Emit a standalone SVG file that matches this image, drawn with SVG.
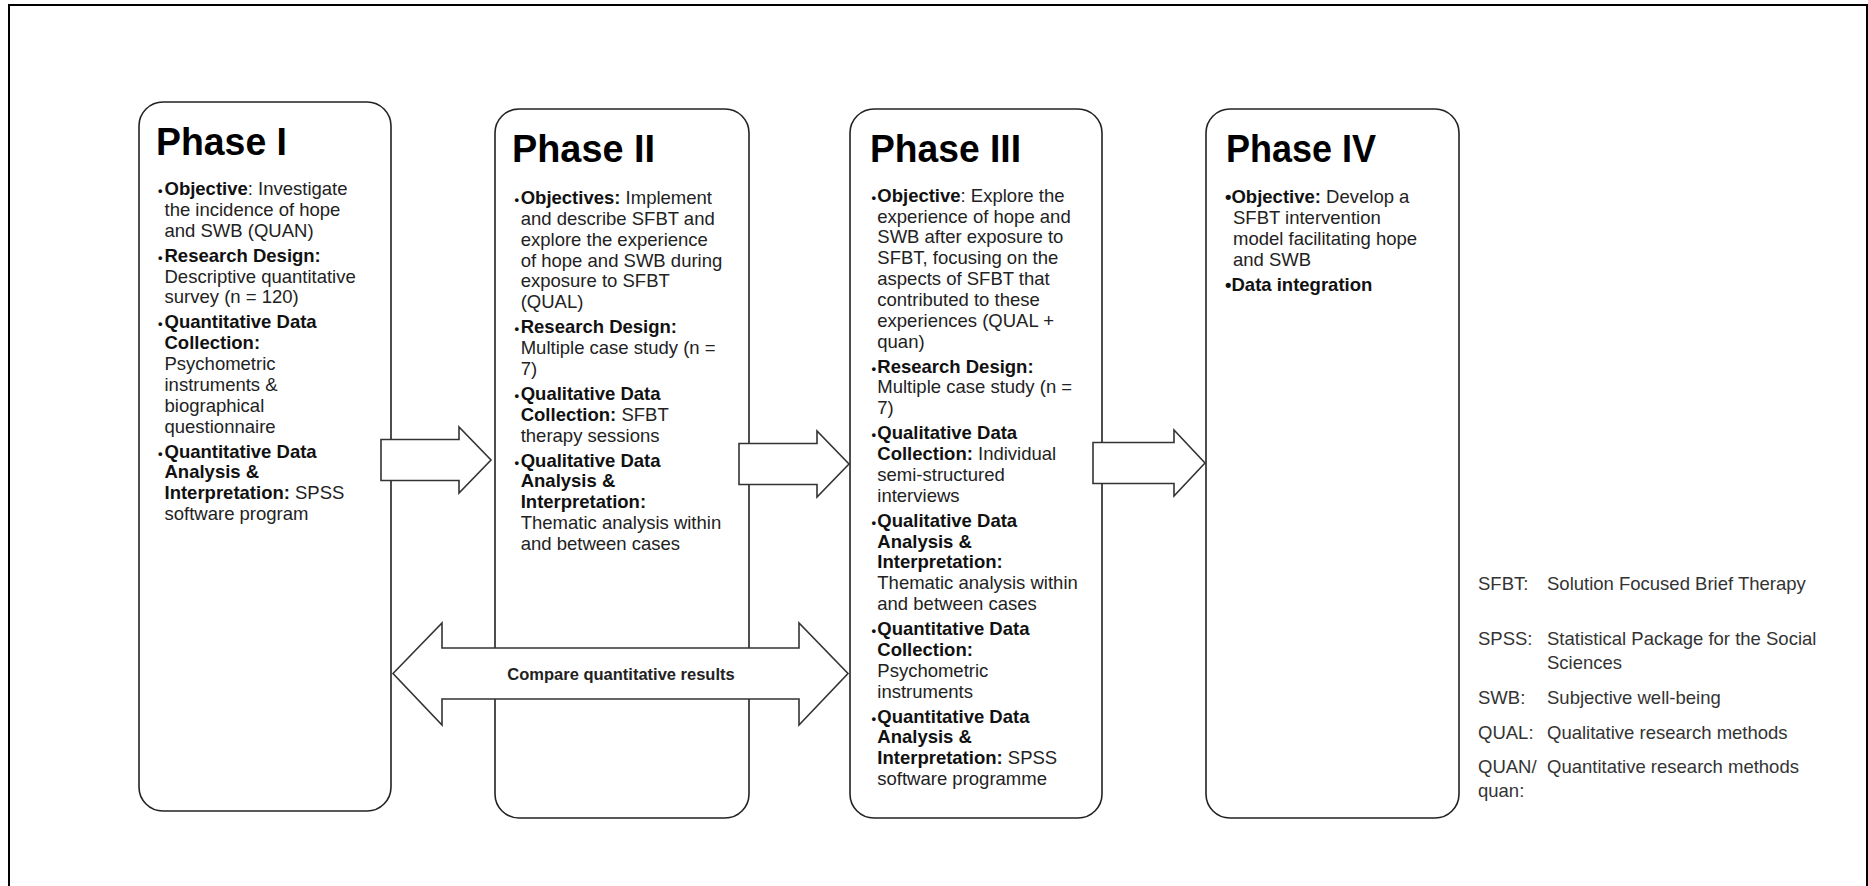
<svg xmlns="http://www.w3.org/2000/svg" width="1868" height="886" viewBox="0 0 1868 886">
<style>
.frame{fill:none;stroke:#000;stroke-width:2}
.box{fill:#fff;stroke:#222;stroke-width:1.6}
.arr{fill:#fff;stroke:#333;stroke-width:1.6;stroke-linejoin:miter}
.hdr{font-family:"Liberation Sans",Arial,sans-serif;font-weight:bold;font-size:39px;fill:#000}
.t{font-family:"Liberation Sans",Arial,sans-serif;font-size:18.5px;fill:#222}
.b{font-weight:bold;fill:#111}
.bu{font-size:13px;font-weight:bold;fill:#111}
.lbl{font-family:"Liberation Sans",Arial,sans-serif;font-weight:bold;font-size:16.5px;fill:#222}
.lg{font-family:"Liberation Sans",Arial,sans-serif;font-size:18.5px;fill:#333}
</style>
<rect class="frame" x="9" y="5" width="1858" height="890"/>

<g id="phase1">
<rect class="box" x="139" y="102" width="252" height="709" rx="24" ry="24"/>
<text class="hdr" x="156" y="155" textLength="131" lengthAdjust="spacingAndGlyphs">Phase I</text>
<text class="t">
<tspan x="158" y="195" class="bu">•</tspan><tspan x="164.5" y="195"><tspan class="b">Objective</tspan>: Investigate</tspan>
<tspan x="164.5" y="215.8">the incidence of hope</tspan>
<tspan x="164.5" y="236.7">and SWB (QUAN)</tspan>
<tspan x="158" y="261.7" class="bu">•</tspan><tspan x="164.5" y="261.7" class="b">Research Design:</tspan>
<tspan x="164.5" y="282.5">Descriptive quantitative</tspan>
<tspan x="164.5" y="303.3">survey (n = 120)</tspan>
<tspan x="158" y="328.3" class="bu">•</tspan><tspan x="164.5" y="328.3" class="b">Quantitative Data</tspan>
<tspan x="164.5" y="349.2" class="b">Collection:</tspan>
<tspan x="164.5" y="370">Psychometric</tspan>
<tspan x="164.5" y="390.8">instruments &amp;</tspan>
<tspan x="164.5" y="411.7">biographical</tspan>
<tspan x="164.5" y="432.5">questionnaire</tspan>
<tspan x="158" y="457.5" class="bu">•</tspan><tspan x="164.5" y="457.5" class="b">Quantitative Data</tspan>
<tspan x="164.5" y="478.3" class="b">Analysis &amp;</tspan>
<tspan x="164.5" y="499.2"><tspan class="b">Interpretation:</tspan> SPSS</tspan>
<tspan x="164.5" y="520">software program</tspan>
</text>
</g>

<g id="phase2">
<rect class="box" x="495" y="109" width="254" height="709" rx="24" ry="24"/>
<text class="hdr" x="512" y="161.5" textLength="143" lengthAdjust="spacingAndGlyphs">Phase II</text>
<text class="t">
<tspan x="514.5" y="204" class="bu">•</tspan><tspan x="520.7" y="204"><tspan class="b">Objectives:</tspan> Implement</tspan>
<tspan x="520.7" y="224.8">and describe SFBT and</tspan>
<tspan x="520.7" y="245.7">explore the experience</tspan>
<tspan x="520.7" y="266.5">of hope and SWB during</tspan>
<tspan x="520.7" y="287.3">exposure to SFBT</tspan>
<tspan x="520.7" y="308.2">(QUAL)</tspan>
<tspan x="514.5" y="333.2" class="bu">•</tspan><tspan x="520.7" y="333.2" class="b">Research Design:</tspan>
<tspan x="520.7" y="354">Multiple case study (n =</tspan>
<tspan x="520.7" y="374.8">7)</tspan>
<tspan x="514.5" y="399.8" class="bu">•</tspan><tspan x="520.7" y="399.8" class="b">Qualitative Data</tspan>
<tspan x="520.7" y="420.7"><tspan class="b">Collection:</tspan> SFBT</tspan>
<tspan x="520.7" y="441.5">therapy sessions</tspan>
<tspan x="514.5" y="466.5" class="bu">•</tspan><tspan x="520.7" y="466.5" class="b">Qualitative Data</tspan>
<tspan x="520.7" y="487.3" class="b">Analysis &amp;</tspan>
<tspan x="520.7" y="508.2" class="b">Interpretation:</tspan>
<tspan x="520.7" y="529">Thematic analysis within</tspan>
<tspan x="520.7" y="549.8">and between cases</tspan>
</text>
</g>

<g id="phase3">
<rect class="box" x="850" y="109" width="252" height="709" rx="24" ry="24"/>
<text class="hdr" x="870" y="161.5" textLength="151" lengthAdjust="spacingAndGlyphs">Phase III</text>
<text class="t">
<tspan x="871.5" y="201.7" class="bu">•</tspan><tspan x="877.3" y="201.7"><tspan class="b">Objective</tspan>: Explore the</tspan>
<tspan x="877.3" y="222.5">experience of hope and</tspan>
<tspan x="877.3" y="243.4">SWB after exposure to</tspan>
<tspan x="877.3" y="264.2">SFBT, focusing on the</tspan>
<tspan x="877.3" y="285">aspects of SFBT that</tspan>
<tspan x="877.3" y="305.9">contributed to these</tspan>
<tspan x="877.3" y="326.7">experiences (QUAL +</tspan>
<tspan x="877.3" y="347.5">quan)</tspan>
<tspan x="871.5" y="372.5" class="bu">•</tspan><tspan x="877.3" y="372.5" class="b">Research Design:</tspan>
<tspan x="877.3" y="393.4">Multiple case study (n =</tspan>
<tspan x="877.3" y="414.2">7)</tspan>
<tspan x="871.5" y="439.2" class="bu">•</tspan><tspan x="877.3" y="439.2" class="b">Qualitative Data</tspan>
<tspan x="877.3" y="460"><tspan class="b">Collection:</tspan> Individual</tspan>
<tspan x="877.3" y="480.9">semi-structured</tspan>
<tspan x="877.3" y="501.7">interviews</tspan>
<tspan x="871.5" y="526.7" class="bu">•</tspan><tspan x="877.3" y="526.7" class="b">Qualitative Data</tspan>
<tspan x="877.3" y="547.5" class="b">Analysis &amp;</tspan>
<tspan x="877.3" y="568.4" class="b">Interpretation:</tspan>
<tspan x="877.3" y="589.2">Thematic analysis within</tspan>
<tspan x="877.3" y="610">and between cases</tspan>
<tspan x="871.5" y="635" class="bu">•</tspan><tspan x="877.3" y="635" class="b">Quantitative Data</tspan>
<tspan x="877.3" y="655.9" class="b">Collection:</tspan>
<tspan x="877.3" y="676.7">Psychometric</tspan>
<tspan x="877.3" y="697.5">instruments</tspan>
<tspan x="871.5" y="722.5" class="bu">•</tspan><tspan x="877.3" y="722.5" class="b">Quantitative Data</tspan>
<tspan x="877.3" y="743.4" class="b">Analysis &amp;</tspan>
<tspan x="877.3" y="764.2"><tspan class="b">Interpretation:</tspan> SPSS</tspan>
<tspan x="877.3" y="785">software programme</tspan>
</text>
</g>

<g id="phase4">
<rect class="box" x="1206" y="109" width="253" height="709" rx="24" ry="24"/>
<text class="hdr" x="1226" y="161.5" textLength="150" lengthAdjust="spacingAndGlyphs">Phase IV</text>
<text class="t">
<tspan x="1225" y="203"><tspan class="b">•Objective:</tspan> Develop a</tspan>
<tspan x="1233" y="223.8">SFBT intervention</tspan>
<tspan x="1233" y="244.7">model facilitating hope</tspan>
<tspan x="1233" y="265.5">and SWB</tspan>
<tspan x="1225" y="290.5" class="b">•Data integration</tspan>
</text>
</g>

<g id="connectors">
<polygon class="arr" points="381,439.5 459,439.5 459,427 491,460 459,493 459,480.5 381,480.5"/>
<polygon class="arr" points="739,443.5 817,443.5 817,431 849,464 817,497 817,484.5 739,484.5"/>
<polygon class="arr" points="1093,442.5 1174,442.5 1174,430 1205,463 1174,496 1174,483.5 1093,483.5"/>
<polygon class="arr" points="393,673.5 442,623 442,648 799,648 799,623 848,673.5 799,725 799,699 442,699 442,725"/>
<text class="lbl" x="621" y="679.5" text-anchor="middle">Compare quantitative results</text>
</g>

<g id="legend">
<text class="lg" x="1478" y="590">SFBT:</text>
<text class="lg" x="1547" y="590">Solution Focused Brief Therapy</text>
<text class="lg" x="1478" y="645">SPSS:</text>
<text class="lg" x="1547" y="645">Statistical Package for the Social</text>
<text class="lg" x="1547" y="669">Sciences</text>
<text class="lg" x="1478" y="704">SWB:</text>
<text class="lg" x="1547" y="704">Subjective well-being</text>
<text class="lg" x="1478" y="738.5">QUAL:</text>
<text class="lg" x="1547" y="738.5">Qualitative research methods</text>
<text class="lg" x="1478" y="772.5">QUAN/</text>
<text class="lg" x="1547" y="772.5">Quantitative research methods</text>
<text class="lg" x="1478" y="797">quan:</text>
</g>
</svg>
